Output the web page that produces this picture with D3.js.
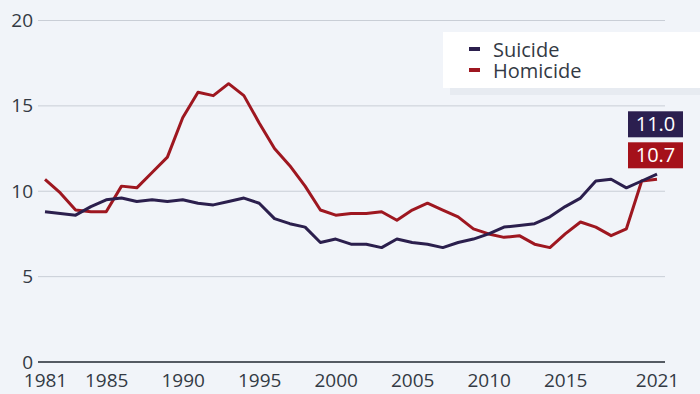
<!DOCTYPE html>
<html>
<head>
<meta charset="utf-8">
<script src="https://cdn.jsdelivr.net/npm/d3@7"></script>
<style>
  body { margin: 0; background: #f1f4f9; }
  svg { display: block; font-family: "Open Sans", sans-serif; }
</style>
</head>
<body>
<div id="wrapper"></div>
<script>
// data
const years = d3.range(1981, 2022)
const suicide = [8.8, 8.7, 8.6, 9.1, 9.5, 9.6, 9.4, 9.5, 9.4, 9.5,
  9.3, 9.2, 9.4, 9.6, 9.3, 8.4, 8.1, 7.9, 7.0, 7.2,
  6.9, 6.9, 6.7, 7.2, 7.0, 6.9, 6.7, 7.0, 7.2, 7.5,
  7.9, 8.0, 8.1, 8.5, 9.1, 9.6, 10.6, 10.7, 10.2, 10.6, 11.0]
const homicide = [10.7, 9.9, 8.9, 8.8, 8.8, 10.3, 10.2, 11.1, 12.0, 14.3,
  15.8, 15.6, 16.3, 15.6, 14.0, 12.5, 11.5, 10.3, 8.9, 8.6,
  8.7, 8.7, 8.8, 8.3, 8.9, 9.3, 8.9, 8.5, 7.8, 7.5,
  7.3, 7.4, 6.9, 6.7, 7.5, 8.2, 7.9, 7.4, 7.8, 10.6, 10.7]
const yTicks = [0, 5, 10, 15, 20]
const xTicks = [1981, 1985, 1990, 1995, 2000, 2005, 2010, 2015, 2021]
const seriesNames = ["Suicide", "Homicide"]
const seriesColors = ["#2b1f4d", "#9e1720"]
const labelColors = ["#2b1f4f", "#a5111a"]

// dimensions
let dimensions = {
  width: 700,
  height: 394,
  margin: { top: 20.5, right: 43, bottom: 32, left: 45 },
}
dimensions.boundedWidth = dimensions.width - dimensions.margin.left - dimensions.margin.right
dimensions.boundedHeight = dimensions.height - dimensions.margin.top - dimensions.margin.bottom

const wrapper = d3.select("#wrapper")
  .append("svg")
  .attr("width", dimensions.width)
  .attr("height", dimensions.height)

wrapper.append("rect")
  .attr("width", dimensions.width)
  .attr("height", dimensions.height)
  .attr("fill", "#f1f4f9")

const bounds = wrapper.append("g")
  .attr("transform", `translate(${dimensions.margin.left},${dimensions.margin.top})`)

// scales
const xScale = d3.scaleLinear()
  .domain([1981, 2021])
  .range([0, dimensions.boundedWidth])

const yScale = d3.scaleLinear()
  .domain([0, 20])
  .range([dimensions.boundedHeight, 0])

// grid
const grid = bounds.append("g")
grid.selectAll("line")
  .data(yTicks)
  .join("line")
  .attr("x1", -7)
  .attr("x2", dimensions.boundedWidth + 8)
  .attr("y1", d => yScale(d))
  .attr("y2", d => yScale(d))
  .attr("stroke", d => d === 0 ? "#555b63" : "#c9ced6")
  .attr("stroke-width", d => d === 0 ? 2 : 1)

// y axis labels
const yAxis = bounds.append("g")
  .call(d3.axisLeft(yScale).tickValues(yTicks).tickSize(0).tickPadding(12))
yAxis.select(".domain").remove()
yAxis.selectAll("text")
  .attr("font-size", 19)
  .attr("font-family", "Open Sans, sans-serif")
  .attr("fill", "#333a44")

// x axis labels
const xAxis = bounds.append("g")
  .attr("transform", `translate(0,${dimensions.boundedHeight})`)
  .call(d3.axisBottom(xScale).tickValues(xTicks).tickFormat(d3.format("d")).tickSize(0).tickPadding(12))
xAxis.select(".domain").remove()
xAxis.selectAll("text")
  .attr("font-size", 19)
  .attr("font-family", "Open Sans, sans-serif")
  .attr("fill", "#333a44")

// lines
const lineGenerator = d3.line()
  .x((d, i) => xScale(years[i]))
  .y(d => yScale(d))

const allSeries = [suicide, homicide]
// homicide drawn first so suicide sits on top
bounds.selectAll(".series")
  .data([1, 0])
  .join("path")
  .attr("class", "series")
  .attr("d", i => lineGenerator(allSeries[i]))
  .attr("fill", "none")
  .attr("stroke", i => seriesColors[i])
  .attr("stroke-width", 3)
  .attr("stroke-linejoin", "round")

// end value labels
const lastX = xScale(2021)
const lastH = yScale(homicide[homicide.length - 1])
const boxW = 55, boxH = 26
const labelTops = [lastH - 11 - boxH - 5 - boxH, lastH - 11 - boxH]
const endValues = [suicide[suicide.length - 1], homicide[homicide.length - 1]]
const endLabels = bounds.selectAll(".end-label")
  .data([0, 1])
  .join("g")
  .attr("class", "end-label")
  .attr("transform", i => `translate(${lastX - 29},${labelTops[i]})`)
endLabels.append("rect")
  .attr("width", boxW)
  .attr("height", boxH)
  .attr("fill", i => labelColors[i])
endLabels.append("text")
  .attr("x", boxW / 2)
  .attr("y", boxH / 2 + 7)
  .attr("text-anchor", "middle")
  .attr("font-size", 20)
  .attr("fill", "#fff")
  .text(i => d3.format(".1f")(endValues[i]))

// legend
const legend = wrapper.append("g")
legend.append("rect")
  .attr("x", 450).attr("y", 86)
  .attr("width", 260).attr("height", 9)
  .attr("fill", "#e7ebf1")
legend.append("rect")
  .attr("x", 443).attr("y", 32)
  .attr("width", 260).attr("height", 56)
  .attr("fill", "#ffffff")
const legendItems = legend.selectAll(".legend-item")
  .data(seriesNames)
  .join("g")
  .attr("class", "legend-item")
  .attr("transform", (d, i) => `translate(469,${49 + i * 21})`)
legendItems.append("rect")
  .attr("x", 0).attr("y", -2)
  .attr("width", 11).attr("height", 4)
  .attr("fill", (d, i) => seriesColors[i])
legendItems.append("text")
  .attr("x", 24)
  .attr("y", 8)
  .attr("font-size", 20)
  .attr("fill", "#333a44")
  .text(d => d)
</script>
</body>
</html>
